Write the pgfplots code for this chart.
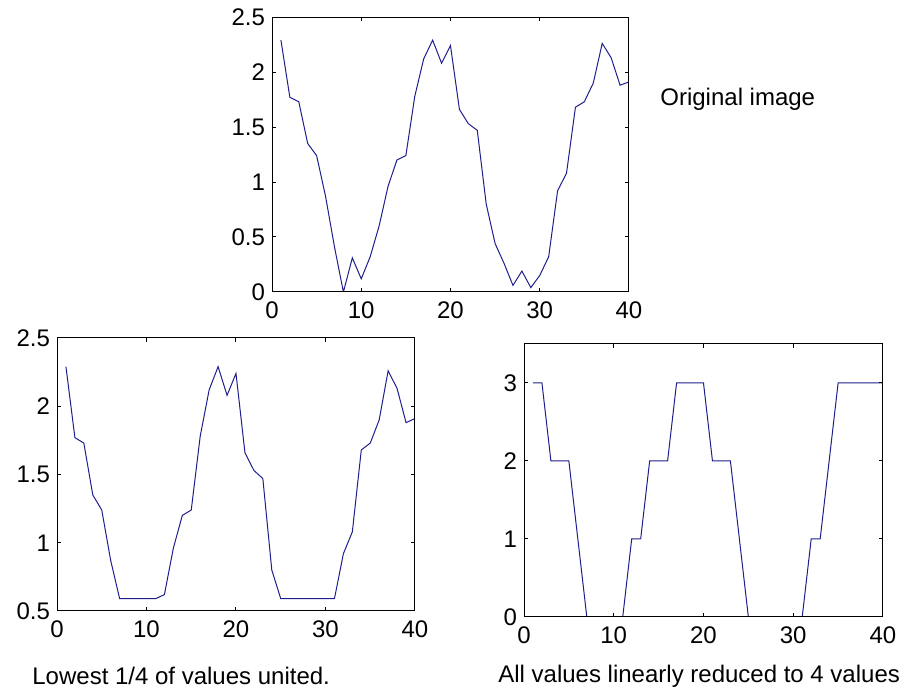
\documentclass[border=0pt]{standalone}
\usepackage{pgfplots}
\pgfplotsset{compat=1.18}
\usepackage{fontspec}
\setmainfont{Liberation Sans}
\definecolor{mline}{RGB}{30,30,140}
\pgfplotsset{
  mstyle/.style={
    scale only axis,
    anchor=south west,
    xmin=0, xmax=40,
    xtick={0,10,20,30,40},
    tick align=inside,
    major tick length=2pt,
    axis on top,
    axis line style={black, line width=0.5pt},
    every tick/.style={black, line width=0.5pt},
    tick label style={font=\fontsize{12}{14}\selectfont},
    xticklabel style={yshift=-1.5pt},
    /pgf/number format/assume math mode=true,
  }
}
\pgfplotstableread{
x y
1 2.29
2 1.77
3 1.73
4 1.35
5 1.24
6 0.87
7 0.41
8 0.00
9 0.31
10 0.12
11 0.32
12 0.60
13 0.96
14 1.20
15 1.24
16 1.78
17 2.12
18 2.29
19 2.08
20 2.24
21 1.66
22 1.53
23 1.47
24 0.80
25 0.44
26 0.26
27 0.06
28 0.19
29 0.04
30 0.15
31 0.32
32 0.92
33 1.08
34 1.68
35 1.73
36 1.90
37 2.26
38 2.13
39 1.88
40 1.91
}\orig
\pgfplotstableread{
x y
1 2.29
2 1.77
3 1.73
4 1.35
5 1.24
6 0.87
7 0.59
8 0.59
9 0.59
10 0.59
11 0.59
12 0.62
13 0.96
14 1.20
15 1.24
16 1.78
17 2.12
18 2.29
19 2.08
20 2.24
21 1.66
22 1.53
23 1.47
24 0.80
25 0.59
26 0.59
27 0.59
28 0.59
29 0.59
30 0.59
31 0.59
32 0.92
33 1.08
34 1.68
35 1.73
36 1.90
37 2.26
38 2.13
39 1.88
40 1.91
}\united
\pgfplotstableread{
x y
1 3
2 3
3 2
4 2
5 2
6 1
7 0
8 0
9 0
10 0
11 0
12 1
13 1
14 2
15 2
16 2
17 3
18 3
19 3
20 3
21 2
22 2
23 2
24 1
25 0
26 0
27 0
28 0
29 0
30 0
31 0
32 1
33 1
34 2
35 3
36 3
37 3
38 3
39 3
40 3
}\reduced
\begin{document}
\begin{tikzpicture}
\useasboundingbox (0,0) rectangle (459pt,346pt);
\begin{axis}[mstyle, at={(136pt,200pt)}, width=178.5pt, height=137.5pt,
  ymin=0, ymax=2.5, ytick={0,0.5,1,1.5,2,2.5}]
  \addplot[mline, line width=0.5pt, mark=none] table[x=x,y=y] {\orig};
\end{axis}
\begin{axis}[mstyle, at={(28.5pt,40.5pt)}, width=179pt, height=136.5pt,
  ymin=0.5, ymax=2.5, ytick={0.5,1,1.5,2,2.5}]
  \addplot[mline, line width=0.5pt, mark=none] table[x=x,y=y] {\united};
\end{axis}
\begin{axis}[mstyle, at={(262pt,37.5pt)}, width=179.5pt, height=136.5pt,
  ymin=0, ymax=3.5, ytick={0,1,2,3}]
  \addplot[mline, line width=0.5pt, mark=none] table[x=x,y=y] {\reduced};
\end{axis}
\node[anchor=base west, inner sep=0pt, font=\fontsize{12}{14}\selectfont] at (330pt,293pt) {Original image};
\node[anchor=base west, inner sep=0pt, font=\fontsize{12}{14}\selectfont] at (16pt,3.5pt) {Lowest 1/4 of values united.};
\node[anchor=base west, inner sep=0pt, font=\fontsize{12}{14}\selectfont] at (249pt,4.6pt) {All values linearly reduced to 4 values};
\end{tikzpicture}
\end{document}
